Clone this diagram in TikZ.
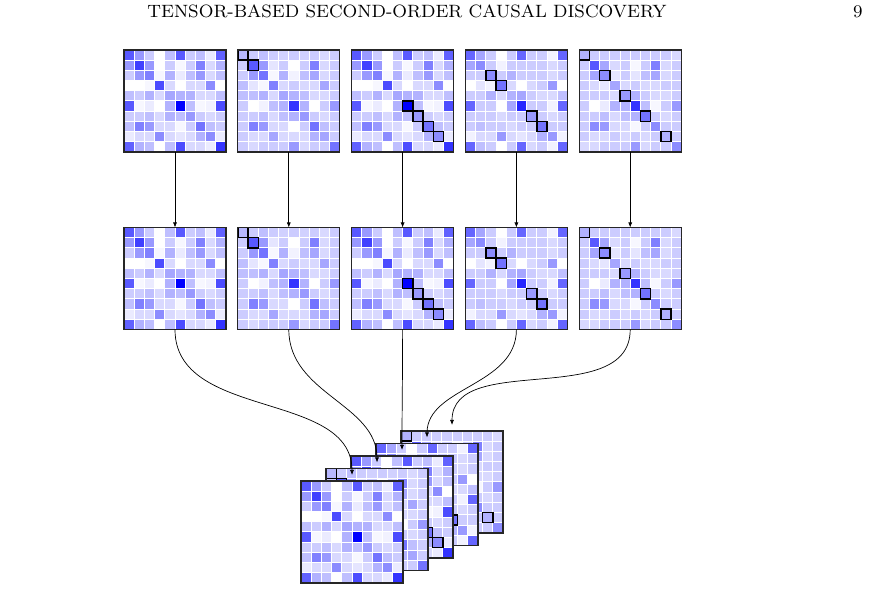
\documentclass[tikz,border=0pt]{standalone}
\usepackage{graphicx}
\usepackage{tikz}
\usetikzlibrary{arrows.meta}
\tikzset{
rim/.style={draw=black!85, line width=1.2pt},
mat/.style={rim, fill=white, minimum size=102pt, inner sep=0pt, outer sep=0pt},
cell/.style={draw=white, line width=1pt},
pick/.style={draw=black, line width=1.4pt},
flow/.style={-{Latex[length=5pt,width=4pt]}, line width=0.7pt}}

\newcommand{\matA}{{65,40,20,0,25,65,20,25,8,62},{40,75,40,0,20,3,20,50,15,30},{20,40,50,3,30,8,25,40,15,25},{0,0,3,70,15,0,15,15,45,0},{25,20,30,15,35,30,30,15,15,25},{65,3,8,0,30,100,25,3,5,70},{20,20,25,15,30,25,40,20,15,20},{25,50,40,15,15,3,20,55,25,20},{8,15,15,45,15,10,15,30,45,8},{62,30,25,0,25,70,15,15,8,80}}
\newcommand{\matB}{{28,20,25,20,18,20,18,20,15,20},{20,65,40,10,20,0,20,50,15,20},{20,40,55,3,30,5,25,35,15,20},{25,10,3,50,15,20,15,15,35,20},{25,25,30,15,35,30,25,15,15,20},{20,0,5,25,30,80,30,0,20,40},{20,20,25,15,25,30,40,20,15,20},{20,50,40,15,15,0,20,55,25,20},{20,15,15,35,15,15,15,30,35,20},{20,15,20,20,20,40,15,20,20,55}}
\newcommand{\matD}{{60,35,20,0,20,60,20,20,5,60},{35,45,20,5,20,20,20,20,15,20},{20,20,45,20,30,20,20,20,15,20},{0,10,5,55,15,0,15,20,40,0},{20,20,30,15,30,35,20,15,15,25},{60,20,20,0,35,85,20,20,5,60},{20,20,20,15,20,20,40,20,15,20},{20,25,20,20,15,20,20,55,20,20},{5,15,15,40,15,10,15,30,40,5},{60,25,20,0,20,60,15,20,5,60}}
\newcommand{\matE}{{30,20,20,20,20,20,20,20,20,15},{20,65,35,15,20,3,20,50,15,20},{20,35,45,10,20,10,25,35,15,20},{20,15,10,35,15,20,15,15,20,20},{20,20,20,15,40,30,20,15,15,20},{20,0,8,30,30,80,25,3,20,40},{20,20,25,15,25,30,55,20,15,20},{20,45,40,15,15,3,20,45,20,20},{20,15,15,20,15,20,15,20,30,20},{15,15,20,20,20,40,15,20,20,45}}

\newcommand{\heat}[3]{%
\begin{scope}[shift={(#1.north west)}]
\foreach \row [count=\i from 0] in #2 {
  \foreach \v [count=\j from 0] in \row {
    \filldraw[cell, fill=blue!\v!white] (10.2*\j,-10.2*\i) rectangle ++(10.2,-10.2);
  }
}
\foreach \k in {#3} {
  \ifx\k\empty\else
  \draw[pick] (10.2*\k,-10.2*\k) rectangle ++(10.2,-10.2);
  \fi
}
\end{scope}
\draw[rim] (#1.north west) rectangle (#1.south east);
}

\begin{document}
\begin{tikzpicture}[x=1pt,y=1pt]
\useasboundingbox (0,0) rectangle (874,612);

\node[anchor=base] (head) at (407,594) {\scalebox{2.23}{\fontsize{8}{10}\selectfont TENSOR-BASED SECOND-ORDER CAUSAL DISCOVERY}};
\node[anchor=base east] (page) at (866,594) {\scalebox{2.23}{\fontsize{8}{10}\selectfont 9}};

\node[mat] (t1) at (175,511) {};
\node[mat] (t2) at (288.8,511) {};
\node[mat] (t3) at (402.6,511) {};
\node[mat] (t4) at (516.4,511) {};
\node[mat] (t5) at (630.2,511) {};
\heat{t1}{\matA}{}
\heat{t2}{\matB}{0,1}
\heat{t3}{\matA}{5,6,7,8}
\heat{t4}{\matD}{2,3,6,7}
\heat{t5}{\matE}{0,2,4,6,8}

\node[mat] (m1) at (175,333.5) {};
\node[mat] (m2) at (288.8,333.5) {};
\node[mat] (m3) at (402.6,333.5) {};
\node[mat] (m4) at (516.4,333.5) {};
\node[mat] (m5) at (630.2,333.5) {};
\heat{m1}{\matA}{}
\heat{m2}{\matB}{0,1}
\heat{m3}{\matA}{5,6,7,8}
\heat{m4}{\matD}{2,3,6,7}
\heat{m5}{\matE}{0,2,4,6,8}

\node[mat] (s5) at (452,130) {};
\heat{s5}{\matE}{0,2,4,6,8}
\node[mat] (s4) at (427,117.5) {};
\heat{s4}{\matD}{2,3,6,7}
\node[mat] (s3) at (402,105) {};
\heat{s3}{\matA}{5,6,7,8}
\node[mat] (s2) at (377,92.5) {};
\heat{s2}{\matB}{0,1}
\node[mat] (s1) at (352,80) {};
\heat{s1}{\matA}{}

\foreach \k in {1,...,5} {
  \draw[flow] (t\k) -- (m\k);
  \draw[flow, shorten >=6pt] (m\k) to[out=-90, in=90] (s\k);
}

\end{tikzpicture}
\end{document}
